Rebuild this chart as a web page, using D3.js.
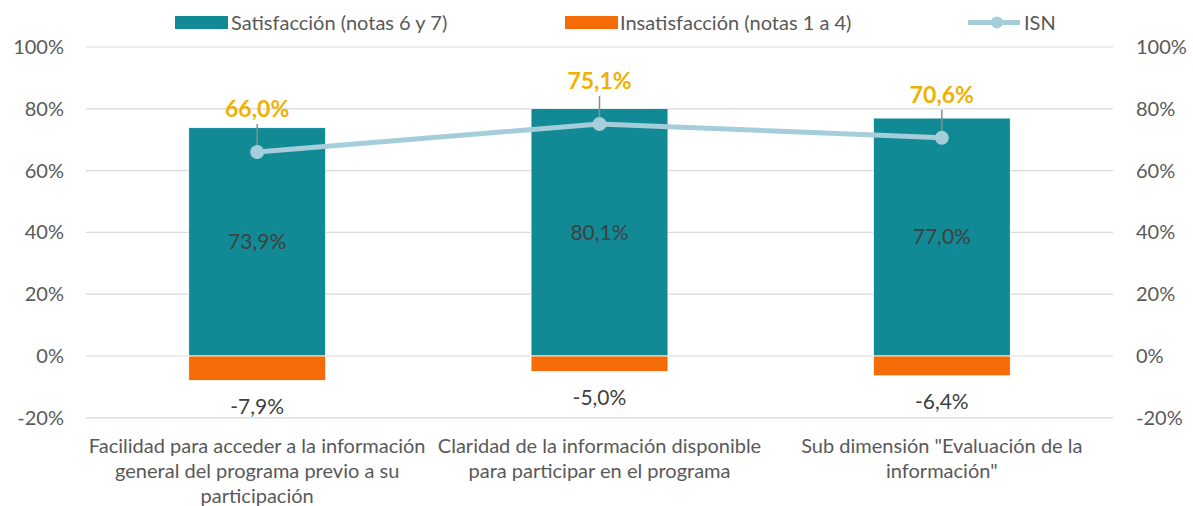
<!DOCTYPE html>
<html lang="es">
<head>
<meta charset="UTF-8">
<title>Satisfacción e ISN</title>
<script src="https://d3js.org/d3.v7.min.js"></script>
<style>
  body { margin: 0; background: #fff; font-family: Lato, "Open Sans", sans-serif; }
  svg { display: block; }
</style>
</head>
<body>
<svg id="chart" width="1193" height="506"></svg>
<script>
// data
const categories = [
  ["Facilidad para acceder a la información", "general del programa previo a su", "participación"],
  ["Claridad de la información disponible", "para participar en el programa"],
  ["Sub dimensión \"Evaluación de la", "información\""]
];
const satisfaccion = [0.739, 0.801, 0.770];
const insatisfaccion = [-0.079, -0.050, -0.064];
const isn = [0.660, 0.751, 0.706];
const yTicks = [-0.2, 0, 0.2, 0.4, 0.6, 0.8, 1.0];

const width = 1193, height = 506;
const svg = d3.select("#chart");
const plotLeft = 86, plotRight = 1113;

const x = d3.scaleBand().domain(d3.range(categories.length)).range([plotLeft, plotRight]).paddingInner(0.6).paddingOuter(0.3);
const y = d3.scaleLinear().domain([-0.2, 1.0]).range([417.8, 47]);

const pct = v => d3.format(".0%")(v).replace("\u2212", "-");
const pct1 = v => d3.format(".1%")(v).replace(".", ",").replace("\u2212", "-");
const textCol = "#595959";

// gridlines
svg.append("g").selectAll("line").data(yTicks).join("line")
  .attr("x1", plotLeft).attr("x2", plotRight)
  .attr("y1", d => y(d)).attr("y2", d => y(d))
  .attr("stroke", "#d9d9d9").attr("stroke-width", 1.2);

// axes
const leftAxis = svg.append("g").attr("transform", `translate(${plotLeft - 22},0)`)
  .call(d3.axisLeft(y).tickValues(yTicks).tickFormat(pct).tickSize(0).tickPadding(0));
const rightAxis = svg.append("g").attr("transform", `translate(${plotRight + 23},0)`)
  .call(d3.axisRight(y).tickValues(yTicks).tickFormat(pct).tickSize(0).tickPadding(0));
[leftAxis, rightAxis].forEach(a => {
  a.select(".domain").remove();
  a.selectAll("text").attr("fill", textCol).attr("font-size", 20).attr("font-family", "Lato, sans-serif");
});

// bars
const bw = x.bandwidth();
svg.append("g").selectAll("rect").data(satisfaccion).join("rect")
  .attr("x", (d, i) => x(i)).attr("width", bw)
  .attr("y", d => y(d)).attr("height", d => y(0) - y(d))
  .attr("fill", "#118A96").attr("stroke", "#fff").attr("stroke-width", 0.8);
svg.append("g").selectAll("rect").data(insatisfaccion).join("rect")
  .attr("x", (d, i) => x(i)).attr("width", bw)
  .attr("y", y(0)).attr("height", d => y(d) - y(0))
  .attr("fill", "#F46B08").attr("stroke", "#fff").attr("stroke-width", 0.8);

// bar labels
svg.append("g").selectAll("text").data(satisfaccion).join("text")
  .attr("x", (d, i) => x(i) + bw / 2).attr("y", d => (y(d) + y(0)) / 2)
  .attr("dy", "0.35em").attr("text-anchor", "middle")
  .attr("fill", "#404040").attr("font-size", 21).text(pct1);
svg.append("g").selectAll("text").data(insatisfaccion).join("text")
  .attr("x", (d, i) => x(i) + bw / 2).attr("y", d => y(d) + 26)
  .attr("dy", "0.35em").attr("text-anchor", "middle")
  .attr("fill", "#404040").attr("font-size", 21).text(pct1);

// ISN line
const cx = i => x(i) + bw / 2;
svg.append("path").datum(isn)
  .attr("d", d3.line().x((d, i) => cx(i)).y(d => y(d)))
  .attr("fill", "none").attr("stroke", "#A6CDDA").attr("stroke-width", 5);

// leader lines + labels
svg.append("g").selectAll("line").data(isn).join("line")
  .attr("x1", (d, i) => cx(i)).attr("x2", (d, i) => cx(i))
  .attr("y1", d => y(d) - 28).attr("y2", d => y(d))
  .attr("stroke", "#8c8c8c").attr("stroke-width", 1.5);
svg.append("g").selectAll("circle").data(isn).join("circle")
  .attr("cx", (d, i) => cx(i)).attr("cy", d => y(d)).attr("r", 7)
  .attr("fill", "#A6CDDA");
svg.append("g").selectAll("text").data(isn).join("text")
  .attr("x", (d, i) => cx(i)).attr("y", d => y(d) - 43)
  .attr("dy", "0.35em").attr("text-anchor", "middle")
  .attr("fill", "#F0B000").attr("font-weight", "bold").attr("font-size", 23).text(pct1);

// category labels
const cat = svg.append("g").selectAll("text").data(categories).join("text")
  .attr("text-anchor", "middle").attr("fill", textCol).attr("font-size", 20);
cat.each(function(lines, i) {
  d3.select(this).selectAll("tspan").data(lines).join("tspan")
    .attr("x", cx(i)).attr("y", (l, j) => 453 + j * 25).text(l => l);
});

// legend
const legend = svg.append("g").attr("font-size", 20).attr("fill", textCol);
legend.append("rect").attr("x", 175).attr("y", 16).attr("width", 53).attr("height", 13).attr("fill", "#118A96");
legend.append("text").attr("x", 231).attr("y", 23).attr("dy", "0.35em").text("Satisfacción (notas 6 y 7)");
legend.append("rect").attr("x", 565).attr("y", 16).attr("width", 53).attr("height", 13).attr("fill", "#F46B08");
legend.append("text").attr("x", 620).attr("y", 23).attr("dy", "0.35em").text("Insatisfacción (notas 1 a 4)");
legend.append("line").attr("x1", 968).attr("x2", 1020).attr("y1", 22.5).attr("y2", 22.5)
  .attr("stroke", "#A6CDDA").attr("stroke-width", 5);
legend.append("circle").attr("cx", 997).attr("cy", 22.5).attr("r", 6).attr("fill", "#A6CDDA");
legend.append("text").attr("x", 1024).attr("y", 23).attr("dy", "0.35em").text("ISN");
</script>
</body>
</html>
